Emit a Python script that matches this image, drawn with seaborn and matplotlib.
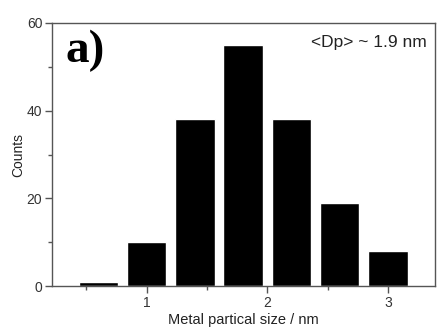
import matplotlib
matplotlib.use("Agg")
import matplotlib.pyplot as plt
from matplotlib.ticker import MultipleLocator
import seaborn as sns

# particle size bins (nm) and counts
sizes = [0.6, 1.0, 1.4, 1.8, 2.2, 2.6, 3.0]
counts = [1, 10, 38, 55, 38, 19, 8]

x_ticks = [1, 2, 3]
y_ticks = [0, 20, 40, 60]

sns.set_theme(style="ticks")
plt.rcParams['font.family'] = ['Liberation Sans', 'DejaVu Sans']

fig = plt.figure(figsize=(4.37, 3.27), dpi=100)
ax = fig.add_axes([0.119, 0.125, 0.876, 0.805])

sns.barplot(x=sizes, y=counts, native_scale=True, color="black",
            saturation=1, width=0.82, ax=ax)

ax.set_xlim(0.215, 3.39)
ax.set_ylim(0, 60)
ax.set_xticks(x_ticks)
ax.set_xticklabels([str(t) for t in x_ticks])
ax.set_yticks(y_ticks)
ax.xaxis.set_minor_locator(MultipleLocator(0.5))
ax.yaxis.set_minor_locator(MultipleLocator(10))

gray = "#555555"
for side in ["left", "right", "top", "bottom"]:
    ax.spines[side].set_visible(True)
    ax.spines[side].set_color(gray)
    ax.spines[side].set_linewidth(1.0)

ax.tick_params(which="major", direction="out", length=5, width=1,
               color=gray, labelsize=10, labelcolor="#333333", pad=2)
ax.tick_params(which="minor", direction="out", length=3, width=1, color=gray)

ax.set_xlabel("Metal partical size / nm", fontsize=10.5, color="#222222", labelpad=2)
ax.set_ylabel("Counts", fontsize=10, color="#222222", labelpad=1)

ax.text(0.035, 0.975, "a)", transform=ax.transAxes, ha="left", va="top",
        fontsize=34, fontweight="bold", family=["Liberation Serif", "DejaVu Serif"],
        color="black")
ax.text(0.98, 0.955, "<Dp> ~ 1.9 nm", transform=ax.transAxes, ha="right", va="top",
        fontsize=12.5, color="#222222")

fig.savefig("out.png", dpi=100)
